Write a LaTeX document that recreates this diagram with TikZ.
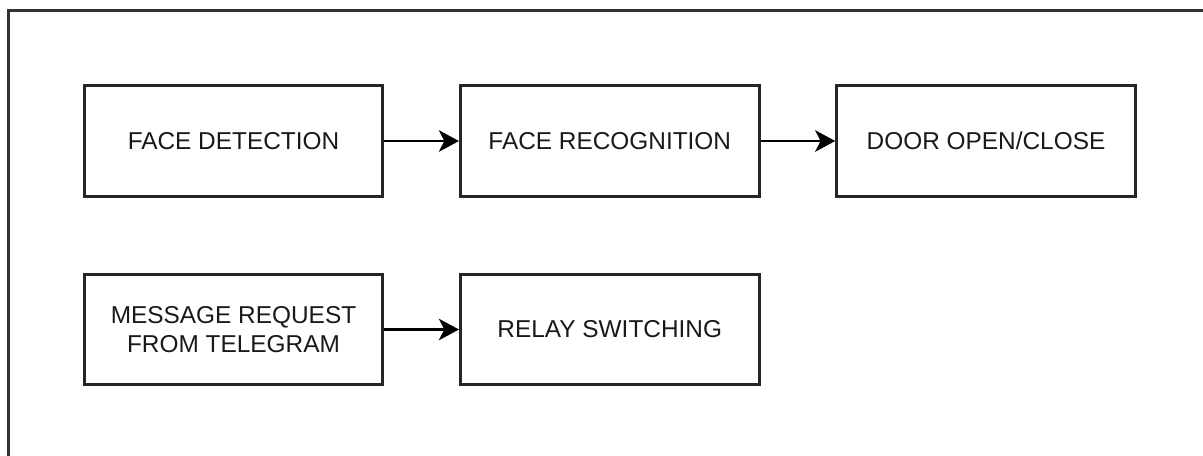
\documentclass[tikz,border=0pt]{standalone}
\usepackage{fontspec}
\setmainfont{Liberation Sans}
\usetikzlibrary{positioning,arrows.meta}
\tikzset{
    block/.style = {draw=black!85, line width=2.2pt, rectangle, minimum width=224pt, minimum height=83pt, align=center, font=\fontsize{18.3}{21.5}\selectfont, text=black!90},
    flow/.style = {draw=black, line width=2.2pt, -{Stealth[length=15pt, width=16pt, inset=4pt]}},
}

\begin{document}
\begin{tikzpicture}[x=0.75pt, y=-0.75pt, node distance=56pt]
\useasboundingbox (0,0) rectangle (1203,455);
\begin{scope}
\clip (0,0) rectangle (1203,455);
\draw[black!80, line width=2.2pt] (8.5,10.5) rectangle (1230,480);
\end{scope}

% first row
\node [block] (detect) at (233.5,141) {FACE DETECTION};
\node [block, right=of detect] (recog) {FACE RECOGNITION};
\node [block, right=of recog] (door) {DOOR OPEN/CLOSE};

% second row
\node [block] (message) at (233.5,329.5) {MESSAGE REQUEST\\FROM TELEGRAM};
\node [block, right=of message] (relay) {RELAY SWITCHING};

\draw[flow] (detect) -- (recog);
\draw[flow] (recog) -- (door);
\draw[flow] (message) -- (relay);
\end{tikzpicture}
\end{document}
